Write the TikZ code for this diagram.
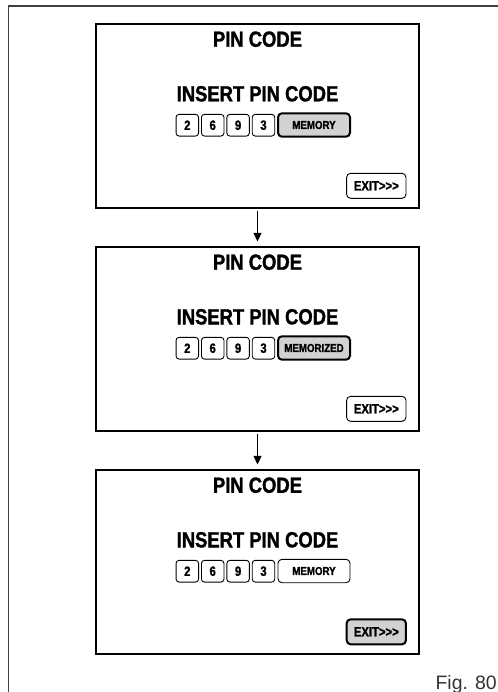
\documentclass[tikz,border=0pt]{standalone}
\usepackage{fontspec}
\usepackage{xcolor}
\usepackage{tikz}
\usetikzlibrary{
    arrows.meta,
    positioning
}
\newfontfamily\condsans[FakeStretch=0.84, BoldFeatures={FakeBold=1.4}]{Liberation Sans}
\newfontfamily\plainsans{Liberation Sans}
\definecolor{keygray}{HTML}{D2D2D2}
\tikzset{
    screen/.style={
        draw,
        line width=2.2bp,
        minimum width=323.6bp,
        minimum height=184bp,
        inner sep=0pt
    }
}
\tikzset{
    screentitle/.style={
        font=\condsans\bfseries\fontsize{22}{24}\selectfont,
        inner sep=0pt
    }
}
\tikzset{
    digitkey/.style={
        draw,
        rounded corners=3bp,
        line width=0.9bp,
        minimum width=22.5bp,
        minimum height=21.7bp,
        inner sep=0pt,
        font=\condsans\bfseries\fontsize{13.5}{14}\selectfont
    }
}
\tikzset{
    memkey/.style={
        draw,
        rounded corners=4bp,
        line width=0.9bp,
        minimum width=72bp,
        minimum height=23.4bp,
        inner sep=0pt,
        font=\condsans\bfseries\fontsize{11.6}{12}\selectfont
    }
}
\tikzset{
    exitkey/.style={
        draw,
        rounded corners=4bp,
        line width=0.9bp,
        minimum width=59.3bp,
        minimum height=25bp,
        inner sep=0pt,
        font=\condsans\bfseries\fontsize{13.5}{14}\selectfont
    }
}
\tikzset{
    pressed/.style={
        fill=keygray,
        line width=2bp
    }
}
\tikzset{
    step link/.style={
        draw,
        line width=0.9bp,
        -{Triangle[width=8bp,length=8.5bp]}
    }
}

\begin{document}
\begin{tikzpicture}[
    x=1bp,
    y=-1bp
]
\useasboundingbox (0,0) rectangle (498,692);

% ------------------------------------------------------------
% Page frame
% ------------------------------------------------------------

\draw[black!75, line width=1.5bp] (8.5,692) -- (8.5,6) -- (498,6);

% ------------------------------------------------------------
% Screen 1: pin entered
% ------------------------------------------------------------

\node[screen] (s1) at (257.5,116) {};
\node[screentitle] (t1) at (257.5,39.2) {PIN CODE};
\node[screentitle] (p1) at (257.5,93.8) {INSERT PIN CODE};
\node[digitkey] (d1a) at (187.3,125.2) {2};
\node[digitkey, right=2bp of d1a] (d1b) {6};
\node[digitkey, right=2bp of d1b] (d1c) {9};
\node[digitkey, right=2bp of d1c] (d1d) {3};
\node[memkey, pressed] (m1) at (314,125) {MEMORY};
\node[exitkey] (e1) at (376.3,185.8) {EXIT>>>};

% ------------------------------------------------------------
% Screen 2: pin memorized
% ------------------------------------------------------------

\node[screen] (s2) at (257.5,339) {};
\node[screentitle] (t2) at (257.5,262.2) {PIN CODE};
\node[screentitle] (p2) at (257.5,316.8) {INSERT PIN CODE};
\node[digitkey] (d2a) at (187.3,348.2) {2};
\node[digitkey, right=2bp of d2a] (d2b) {6};
\node[digitkey, right=2bp of d2b] (d2c) {9};
\node[digitkey, right=2bp of d2c] (d2d) {3};
\node[memkey, pressed] (m2) at (314,348) {MEMORIZED};
\node[exitkey] (e2) at (376.3,408.8) {EXIT>>>};

% ------------------------------------------------------------
% Screen 3: leave the menu
% ------------------------------------------------------------

\node[screen] (s3) at (257.5,562) {};
\node[screentitle] (t3) at (257.5,485.2) {PIN CODE};
\node[screentitle] (p3) at (257.5,539.8) {INSERT PIN CODE};
\node[digitkey] (d3a) at (187.3,571.2) {2};
\node[digitkey, right=2bp of d3a] (d3b) {6};
\node[digitkey, right=2bp of d3b] (d3c) {9};
\node[digitkey, right=2bp of d3c] (d3d) {3};
\node[memkey] (m3) at (314,571) {MEMORY};
\node[exitkey, pressed] (e3) at (376.3,631.8) {EXIT>>>};

% ------------------------------------------------------------
% Sequence
% ------------------------------------------------------------

\draw[step link, shorten <=2bp, shorten >=4.5bp] (s1) -- (s2);
\draw[step link, shorten <=2bp, shorten >=4.5bp] (s2) -- (s3);

\node[font=\plainsans\fontsize{19.5}{22}\selectfont, text=black!80,
    anchor=base east, inner sep=0pt] (fig) at (497,689) {Fig. 80};

\end{tikzpicture}
\end{document}
